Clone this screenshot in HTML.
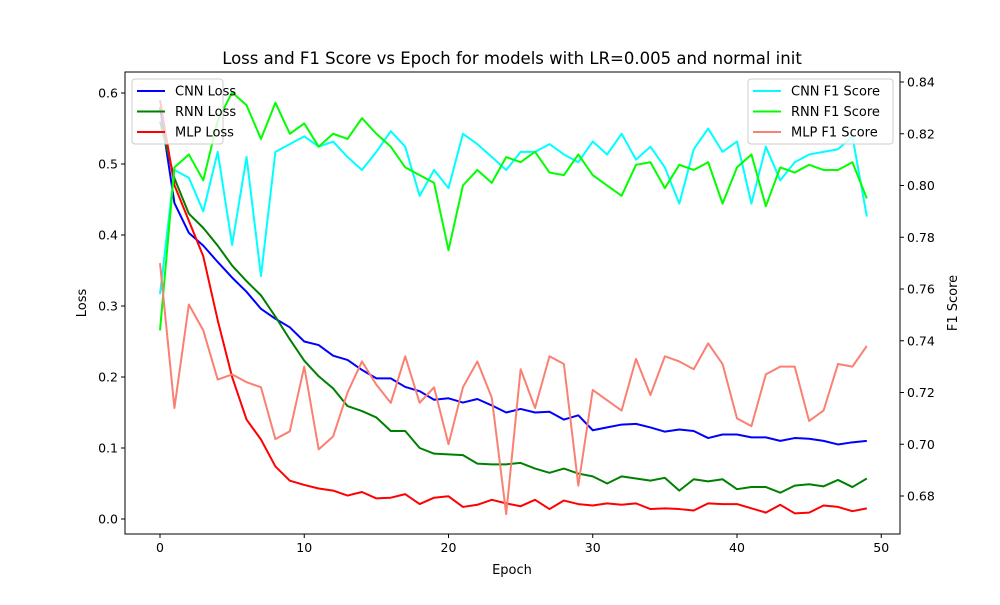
<!DOCTYPE html>
<html><head><meta charset="utf-8"><style>body{margin:0;background:#fff}svg text{font-family:"DejaVu Sans","Liberation Sans",sans-serif;fill:#000}</style></head>
<body>
<svg id="chart" width="1000" height="600" xmlns="http://www.w3.org/2000/svg">
<rect width="1000" height="600" fill="#fff"/>
<text x="512" y="64" font-size="16.5" text-anchor="middle">Loss and F1 Score vs Epoch for models with LR=0.005 and normal init</text>
<g id="plot"></g>
</svg>
<script>
const cnnLoss=[0.58,0.445,0.403,0.385,0.362,0.340,0.320,0.296,0.282,0.270,0.250,0.245,0.230,0.224,0.210,0.198,0.198,0.186,0.180,0.168,0.170,0.164,0.169,0.160,0.150,0.155,0.150,0.151,0.140,0.146,0.125,0.129,0.133,0.134,0.129,0.123,0.126,0.124,0.114,0.119,0.119,0.115,0.115,0.110,0.114,0.113,0.110,0.105,0.108,0.110];
const rnnLoss=[0.56,0.48,0.43,0.41,0.385,0.357,0.335,0.315,0.285,0.253,0.223,0.201,0.184,0.159,0.152,0.143,0.124,0.124,0.100,0.092,0.091,0.090,0.078,0.077,0.077,0.079,0.071,0.065,0.071,0.064,0.060,0.050,0.060,0.057,0.054,0.058,0.040,0.056,0.053,0.056,0.042,0.045,0.045,0.037,0.047,0.049,0.046,0.055,0.045,0.057];
const mlpLoss=[0.59,0.47,0.42,0.37,0.28,0.20,0.14,0.112,0.074,0.054,0.048,0.043,0.040,0.033,0.038,0.029,0.030,0.035,0.021,0.030,0.032,0.017,0.020,0.027,0.022,0.018,0.027,0.014,0.026,0.021,0.019,0.022,0.020,0.022,0.014,0.015,0.014,0.012,0.022,0.021,0.021,0.015,0.009,0.020,0.008,0.009,0.019,0.017,0.011,0.015];
const cnnF1=[0.758,0.806,0.803,0.790,0.813,0.777,0.811,0.765,0.813,0.816,0.819,0.815,0.817,0.811,0.806,0.813,0.821,0.815,0.796,0.806,0.799,0.820,0.816,0.811,0.806,0.813,0.813,0.816,0.812,0.809,0.817,0.812,0.820,0.810,0.815,0.807,0.793,0.814,0.822,0.813,0.817,0.793,0.815,0.802,0.809,0.812,0.813,0.814,0.819,0.788];
const rnnF1=[0.744,0.807,0.812,0.802,0.825,0.836,0.831,0.818,0.832,0.820,0.824,0.815,0.820,0.818,0.826,0.820,0.815,0.807,0.804,0.801,0.775,0.800,0.806,0.801,0.811,0.809,0.813,0.805,0.804,0.812,0.804,0.800,0.796,0.808,0.809,0.799,0.808,0.806,0.809,0.793,0.807,0.812,0.792,0.807,0.805,0.808,0.806,0.806,0.809,0.795];
const mlpF1=[0.770,0.714,0.754,0.744,0.725,0.727,0.724,0.722,0.702,0.705,0.730,0.698,0.703,0.720,0.732,0.723,0.716,0.734,0.716,0.722,0.700,0.722,0.732,0.718,0.673,0.729,0.714,0.734,0.731,0.684,0.721,0.717,0.713,0.733,0.719,0.734,0.732,0.729,0.739,0.731,0.710,0.707,0.727,0.730,0.730,0.709,0.713,0.731,0.730,0.738];
const xTicks=[0,10,20,30,40,50];
const yLeftTicks=[0.0,0.1,0.2,0.3,0.4,0.5,0.6];
const yRightTicks=[0.68,0.70,0.72,0.74,0.76,0.78,0.80,0.82,0.84];

const L=125,R=900,T=72,B=534;
const xs=e=>160+e*14.425;
const yl=v=>519-v*710;
const yr=v=>496-(v-0.68)*2587.5;
const g=document.getElementById('plot');
const NS='http://www.w3.org/2000/svg';
function mk(tag,attrs,parent){const el=document.createElementNS(NS,tag);for(const k in attrs)el.setAttribute(k,attrs[k]);(parent||g).appendChild(el);return el;}

function line(data,yf,color,name){
  const p=mk('polyline',{points:data.map((v,i)=>xs(i)+','+yf(v)).join(' '),fill:'none',stroke:color,'stroke-width':2,'stroke-linejoin':'round'});
  
  
}
line(cnnLoss,yl,'#0000ff','cnn-loss-line');
line(rnnLoss,yl,'#008000','rnn-loss-line');
line(mlpLoss,yl,'#ff0000','mlp-loss-line');
line(cnnF1,yr,'#00ffff','cnn-f1-line');
line(rnnF1,yr,'#00ff00','rnn-f1-line');
line(mlpF1,yr,'#fa8072','mlp-f1-line');

const frame=mk('rect',{x:L,y:T,width:R-L,height:B-T,fill:'none',stroke:'#000','stroke-width':1});



xTicks.forEach(t=>{const x=xs(t);mk('line',{x1:x,x2:x,y1:B,y2:B+4,stroke:'#000'});
  const tx=mk('text',{x:x,y:B+18,'font-size':12.5,'text-anchor':'middle'});tx.textContent=t;
  
  });
yLeftTicks.forEach(t=>{const y=yl(t);mk('line',{x1:L-4,x2:L,y1:y,y2:y,stroke:'#000'});
  const tx=mk('text',{x:L-7,y:y+4.5,'font-size':12.5,'text-anchor':'end'});tx.textContent=t.toFixed(1);
  
  });
yRightTicks.forEach(t=>{const y=yr(t);mk('line',{x1:R,x2:R+4,y1:y,y2:y,stroke:'#000'});
  const tx=mk('text',{x:R+7,y:y+4.5,'font-size':12.5});tx.textContent=t.toFixed(2);
  
  });

let t=mk('text',{x:512,y:574,'font-size':13,'text-anchor':'middle'});t.textContent='Epoch';


t=mk('text',{x:86,y:303,'font-size':13,'text-anchor':'middle',transform:'rotate(-90 86 303)'});t.textContent='Loss';


t=mk('text',{x:957,y:303,'font-size':13,'text-anchor':'middle',transform:'rotate(-90 957 303)'});t.textContent='F1 Score';



function legend(x,y,w,items,name){
  const lg=mk('g',{});
  
  
  mk('rect',{x:x,y:y,width:w,height:65,rx:3,fill:'#fff','fill-opacity':0.8,stroke:'#ccc'},lg);
  items.forEach((it,i)=>{const yy=y+12+i*20.5;
    mk('line',{x1:x+5,x2:x+33,y1:yy,y2:yy,stroke:it[1],'stroke-width':2},lg);
    const tx=mk('text',{x:x+43,y:yy+4.5,'font-size':13},lg);tx.textContent=it[0];
    
    });
}
legend(132,79,91,[['CNN Loss','#0000ff'],['RNN Loss','#008000'],['MLP Loss','#ff0000']],'legend-loss');
legend(748,79,145,[['CNN F1 Score','#00ffff'],['RNN F1 Score','#00ff00'],['MLP F1 Score','#fa8072']],'legend-f1');
</script>
</body></html>
